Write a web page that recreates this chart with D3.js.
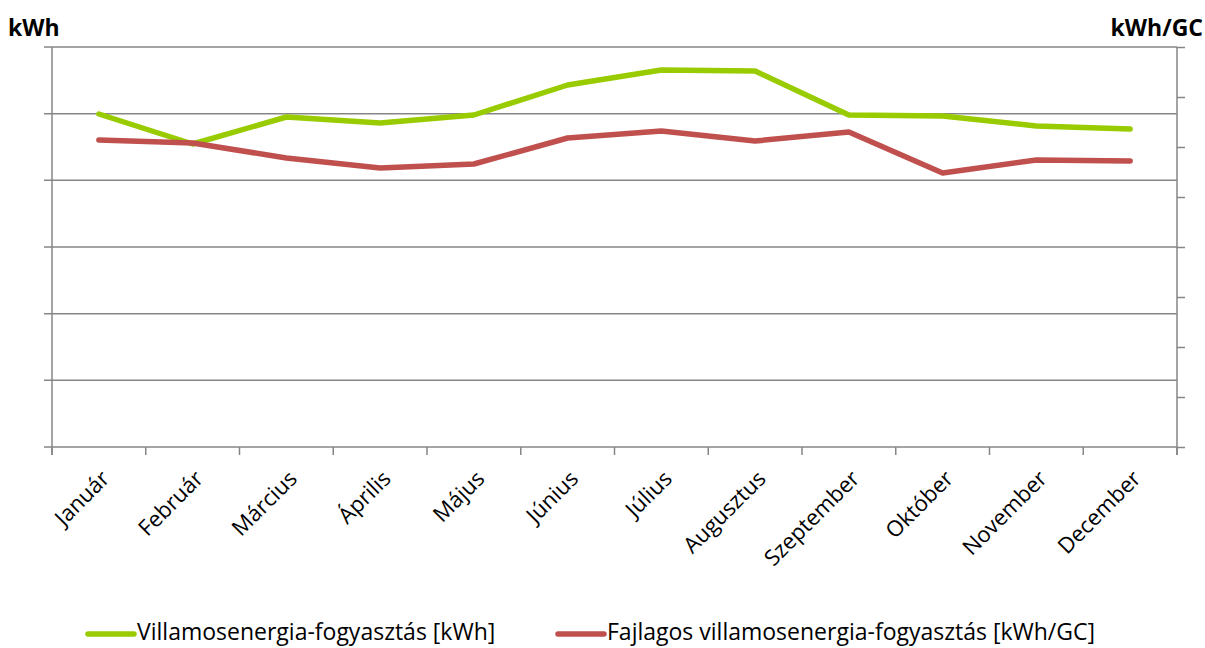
<!DOCTYPE html>
<html>
<head>
<meta charset="utf-8">
<script src="https://cdn.jsdelivr.net/npm/d3@7"></script>
<style>
  body { margin: 0; background: #fff; }
  text { font-family: "Open Sans", "Noto Sans", sans-serif; }
</style>
</head>
<body>
<div id="graph"></div>
<script>
const months = ['Január','Február','Március','Április','Május','Június','Július','Augusztus','Szeptember','Október','November','December'];
// kWh (left axis)
const consumption = [99900, 90900, 99000, 97200, 99600, 108600, 113100, 112800, 99600, 99300, 96300, 95400];
// kWh/GC (right axis)
const specific = [0.614, 0.608, 0.578, 0.558, 0.566, 0.618, 0.632, 0.612, 0.630, 0.548, 0.574, 0.572];
const leftTicks = [0, 20000, 40000, 60000, 80000, 100000, 120000];
const rightTicks = [0, 0.1, 0.2, 0.3, 0.4, 0.5, 0.6, 0.7, 0.8];

const w = 1205, h = 648;
const pad_left = 52, pad_right = 1177, pad_top = 47, pad_bottom = 447;
const grid = '#868686';

const svg = d3.select('#graph').append('svg')
  .attr('width', w).attr('height', h);

const x = d3.scaleBand().domain(months).range([pad_left, pad_right]);
const yL = d3.scaleLinear().domain([0, 120000]).range([pad_bottom, pad_top]);
const yR = d3.scaleLinear().domain([0, 0.8]).range([pad_bottom, pad_top]);

// gridlines
svg.append('g').selectAll('line')
  .data(leftTicks)
  .enter().append('line')
  .attr('x1', pad_left - 8).attr('x2', pad_right)
  .attr('y1', d => yL(d)).attr('y2', d => yL(d))
  .attr('stroke', grid).attr('stroke-width', 1.5);

// left axis line
svg.append('line')
  .attr('x1', pad_left).attr('x2', pad_left)
  .attr('y1', pad_top).attr('y2', pad_bottom + 8)
  .attr('stroke', grid).attr('stroke-width', 1.5);

// right axis
svg.append('g')
  .attr('transform', 'translate(' + pad_right + ',0)')
  .call(d3.axisRight(yR).tickValues(rightTicks).tickSize(8).tickFormat(''))
  .call(g => g.selectAll('line,path').attr('stroke', grid).attr('stroke-width', 1.5))
  .call(g => g.select('.domain').attr('d', 'M0,' + pad_top + 'V' + (pad_bottom + 8)));

// x axis ticks at category boundaries
const bounds = months.map(m => x(m)).concat([pad_right]);
svg.append('g').selectAll('line')
  .data(bounds)
  .enter().append('line')
  .attr('x1', d => d).attr('x2', d => d)
  .attr('y1', pad_bottom).attr('y2', pad_bottom + 8)
  .attr('stroke', grid).attr('stroke-width', 1.5);

// x labels
svg.append('g').selectAll('text')
  .data(months)
  .enter().append('text')
  .text(d => d)
  .attr('transform', d => 'translate(' + (x(d) + x.bandwidth() / 2 + 12) + ',' + 480 + ') rotate(-45)')
  .attr('text-anchor', 'end')
  .attr('font-size', 22)
  .attr('fill', '#000');

const cx = d => x(d) + x.bandwidth() / 2;

const lineL = d3.line().x((d, i) => cx(months[i])).y(d => yL(d));
const lineR = d3.line().x((d, i) => cx(months[i])).y(d => yR(d));

svg.append('path')
  .attr('d', lineL(consumption))
  .attr('fill', 'none').attr('stroke', '#99CC00')
  .attr('stroke-width', 5.5).attr('stroke-linecap', 'round').attr('stroke-linejoin', 'round');

svg.append('path')
  .attr('d', lineR(specific))
  .attr('fill', 'none').attr('stroke', '#C0504D')
  .attr('stroke-width', 5.5).attr('stroke-linecap', 'round').attr('stroke-linejoin', 'round');

// axis titles
svg.append('text').text('kWh')
  .attr('x', 8).attr('y', 36)
  .attr('font-size', 23).attr('font-weight', 'bold');
svg.append('text').text('kWh/GC')
  .attr('x', 1203).attr('y', 36)
  .attr('text-anchor', 'end')
  .attr('font-size', 23).attr('font-weight', 'bold');

// legend
const legend = [
  {name: 'Villamosenergia-fogyasztás [kWh]', color: '#99CC00', x: 88},
  {name: 'Fajlagos villamosenergia-fogyasztás [kWh/GC]', color: '#C0504D', x: 558}
];
const lg = svg.append('g').selectAll('g')
  .data(legend)
  .enter().append('g');
lg.append('line')
  .attr('x1', d => d.x).attr('x2', d => d.x + 46)
  .attr('y1', 634).attr('y2', 634)
  .attr('stroke', d => d.color).attr('stroke-width', 5.5).attr('stroke-linecap', 'round');
lg.append('text')
  .text(d => d.name)
  .attr('x', d => d.x + 49).attr('y', 640)
  .attr('font-size', 23);
</script>
</body>
</html>
